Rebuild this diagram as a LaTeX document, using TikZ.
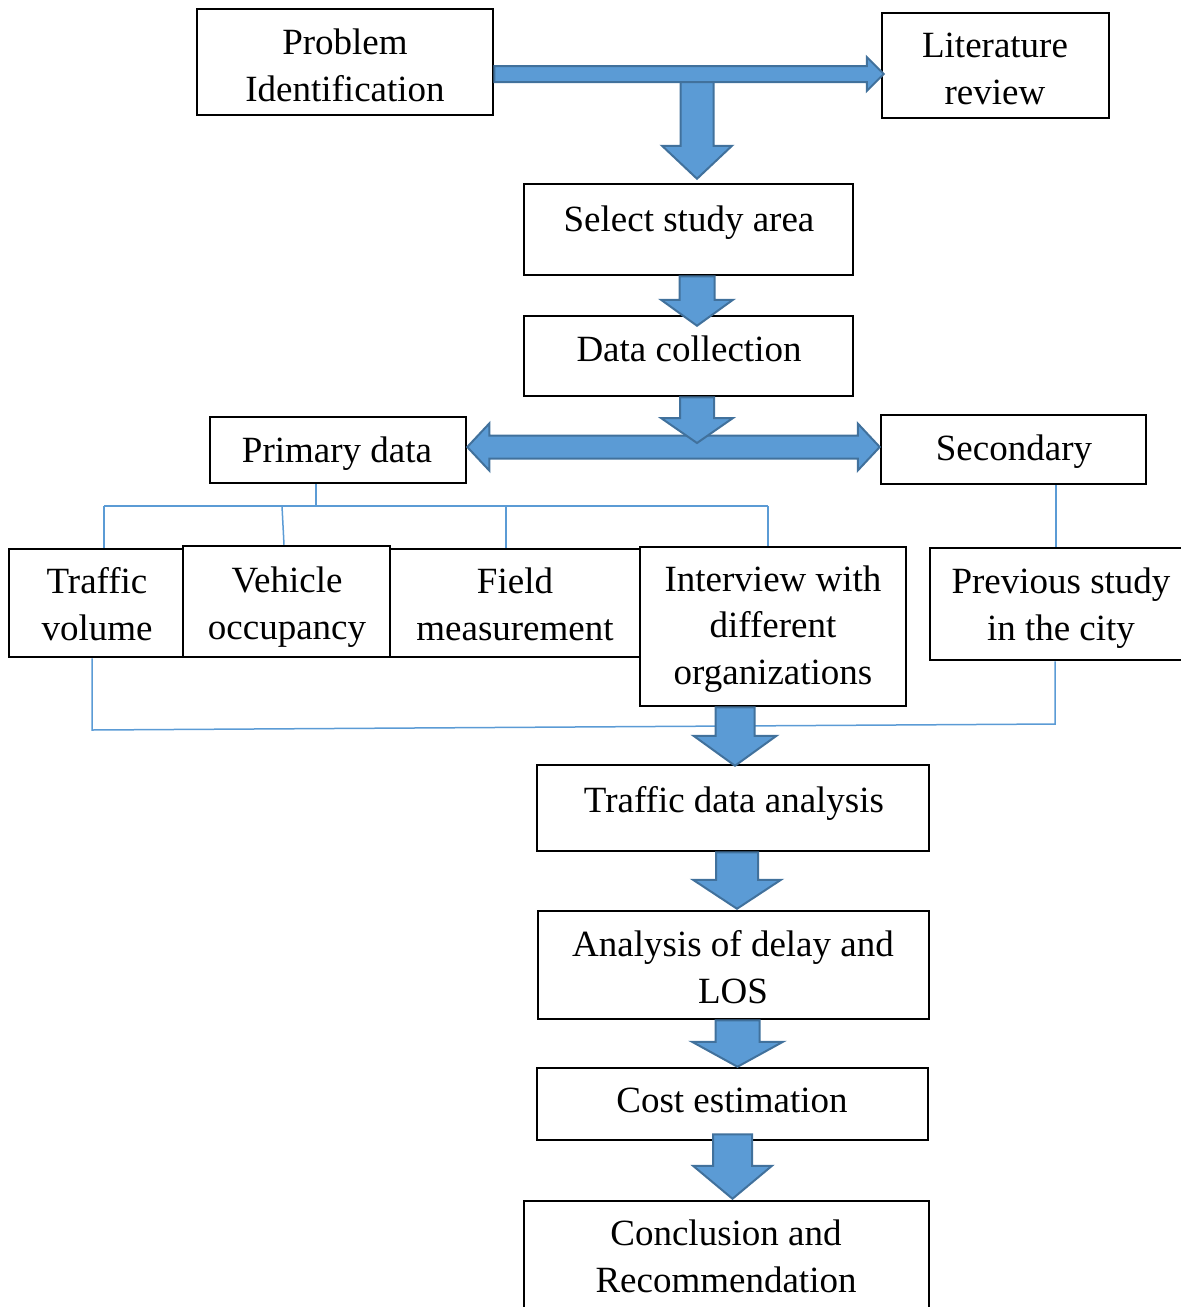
\documentclass[tikz,border=0pt]{standalone}
\usepackage{fontspec}
\setmainfont{Liberation Serif}
\usetikzlibrary{calc}
\definecolor{arrfill}{HTML}{5B9BD5}
\definecolor{arrdraw}{HTML}{41719C}
\definecolor{thinblue}{HTML}{5B9BD5}
\tikzset{
  box/.style={draw=black, line width=2.5pt, fill=white, rectangle, inner sep=0pt},
  lbl/.style={font=\fontsize{37}{46.5}\selectfont, align=center, inner sep=0pt, anchor=base},
  thinline/.style={draw=thinblue, line width=1.5pt},
  barrow/.style={fill=arrfill, draw=arrdraw, line width=2pt, line join=miter},
}
% #1 src, #2 dst, #3 x, #4 src offset (down +), #5 tip offset (down +), #6 shaft half, #7 head half, #8 head length
\newcommand\dnarrow[8]{%
  \draw[barrow] let \p1=(#1.south), \p2=(#2.north) in
    ({#3pt-#6pt},{\y1-(#4pt)}) -- ({#3pt+#6pt},{\y1-(#4pt)})
    -- ({#3pt+#6pt},{\y2-(#5pt)+#8pt}) -- ({#3pt+#7pt},{\y2-(#5pt)+#8pt})
    -- ({#3pt},{\y2-(#5pt)})
    -- ({#3pt-#7pt},{\y2-(#5pt)+#8pt}) -- ({#3pt-#6pt},{\y2-(#5pt)+#8pt}) -- cycle;}
\begin{document}
\begin{tikzpicture}[x=1pt,y=-1pt]
\useasboundingbox (0,0) rectangle (1181,1307);

% boxes
\node[box, minimum width=296pt, minimum height=106pt] (prob) at (345,62) {};
\node[box, minimum width=227pt, minimum height=105pt] (lit) at (995.5,65.5) {};
\node[box, minimum width=329pt, minimum height=91pt] (sel) at (688.5,229.5) {};
\node[box, minimum width=329pt, minimum height=80pt] (dat) at (688.5,356) {};
\node[box, minimum width=256pt, minimum height=66pt] (prim) at (338,450) {};
\node[box, minimum width=265pt, minimum height=69pt] (sec) at (1013.5,449.5) {};
\node[box, minimum width=174pt, minimum height=108pt] (tv) at (96,603) {};
\node[box, minimum width=250pt, minimum height=108pt] (fm) at (515,603) {};
\node[box, minimum width=207pt, minimum height=111pt] (vo) at (286.5,601.5) {};
\node[box, minimum width=266pt, minimum height=159pt] (iw) at (773,626.5) {};
\node[box, minimum width=265pt, minimum height=112pt] (ps) at (1062.5,604) {};
\node[box, minimum width=392pt, minimum height=86pt] (tda) at (733,808) {};
\node[box, minimum width=391pt, minimum height=108pt] (ad) at (733.5,965) {};
\node[box, minimum width=391pt, minimum height=72pt] (ce) at (732.5,1104) {};
\node[box, minimum width=405pt, minimum height=119pt] (cr) at (726.5,1260.5) {};

% texts (base anchor = baseline of last line)
\node[lbl] (tprob) at (345,101) {Problem\\Identification};
\node[lbl] (tlit) at (995,104) {Literature\\review};
\node[lbl] (tsel) at (689,231) {Select study area};
\node[lbl] (tdat) at (689,361) {Data collection};
\node[lbl] (tprim) at (337,462) {Primary data};
\node[lbl] (tsec) at (1014,460) {Secondary};
\node[lbl] (ttv) at (97,640) {Traffic\\volume};
\node[lbl] (tvo) at (287,639) {Vehicle\\occupancy};
\node[lbl] (tfm) at (515,640) {Field\\measurement};
\node[lbl] (tiw) at (773,684) {Interview with\\different\\organizations};
\node[lbl] (tps) at (1061,640) {Previous study\\in the city};
\node[lbl] (ttda) at (734,812) {Traffic data analysis};
\node[lbl] (tad) at (733,1003) {Analysis of delay and\\LOS};
\node[lbl] (tce) at (732,1112) {Cost estimation};
\node[lbl] (tcr) at (726,1292) {Conclusion and\\Recommendation};

% thin connectors
\coordinate (pj) at (316,506);
\draw[thinline] (prim.south -| pj) -- (pj);
\draw[thinline] (104,506) -- (768,506);
\draw[thinline] (104,506) -- (104,0 |- tv.north);
\draw[thinline] (282,506) -- (284,0 |- vo.north);
\draw[thinline] (506,506) -- (506,0 |- fm.north);
\draw[thinline] (768,506) -- (768,0 |- iw.north);
\draw[thinline] (sec.south -| 1056,0) -- (ps.north -| 1056,0);
\coordinate (bl) at (92,730);
\coordinate (br) at (1055,724);
\draw[thinline] (tv.south -| bl) -- (bl) -- (br) -- (ps.south -| br);

% block arrows
\draw[barrow] let \p1=(prob.east), \p2=(lit.west) in
  (\x1,-66pt) -- ({\x2-14pt},-66pt) -- ({\x2-14pt},-57pt) -- ({\x2+3pt},-74pt)
  -- ({\x2-14pt},-91pt) -- ({\x2-14pt},-82pt) -- (\x1,-82pt) -- cycle;
\coordinate (hbar) at (697,82);
\dnarrow{hbar}{sel}{697}{0}{-4}{16.5}{35}{33}
\dnarrow{sel}{dat}{697}{0}{11}{17.5}{36}{26}

\draw[barrow] let \p1=(prim.east), \p2=(sec.west) in
  (\x1,-447pt) -- ({\x1+22pt},-423.5pt) -- ({\x1+22pt},-435.5pt) -- ({\x2-22pt},-435.5pt)
  -- ({\x2-22pt},-423.5pt) -- (\x2,-447pt) -- ({\x2-22pt},-470.5pt) -- ({\x2-22pt},-458.5pt)
  -- ({\x1+22pt},-458.5pt) -- ({\x1+22pt},-470.5pt) -- cycle;
\coordinate (dbl) at (697,443);
\dnarrow{dat}{dbl}{697}{0}{0}{17}{36}{25}

\dnarrow{iw}{tda}{735}{0}{2}{19.5}{41.5}{30}
\dnarrow{tda}{ad}{737}{0}{-1}{21}{44}{29}
\dnarrow{ad}{ce}{737.5}{0}{0}{22}{45.5}{25}
\dnarrow{ce}{cr}{732.5}{-7}{-1}{19.5}{39.5}{33}
\end{tikzpicture}
\end{document}
